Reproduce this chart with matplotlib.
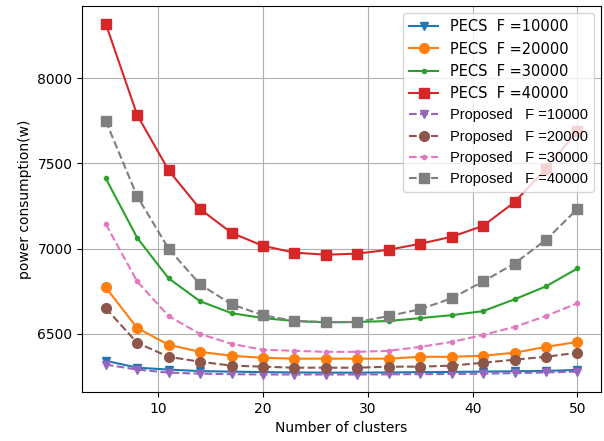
import matplotlib
matplotlib.use("Agg")
import matplotlib.pyplot as plt

clusters = [5, 8, 11, 14, 17, 20, 23, 26, 29, 32, 35, 38, 41, 44, 47, 50]

pecs_10000 = [6343, 6302, 6291, 6282, 6279, 6276, 6274, 6273, 6273, 6274, 6276, 6277, 6279, 6281, 6283, 6289]
pecs_20000 = [6773, 6535, 6436, 6395, 6372, 6360, 6355, 6355, 6355, 6355, 6366, 6366, 6372, 6390, 6424, 6453]
pecs_30000 = [7413, 7064, 6826, 6692, 6622, 6593, 6576, 6568, 6570, 6576, 6593, 6610, 6634, 6703, 6779, 6884]
pecs_40000 = [8320, 7785, 7460, 7233, 7093, 7017, 6977, 6965, 6971, 6994, 7029, 7070, 7134, 7273, 7470, 7690]

prop_10000 = [6320, 6291, 6273, 6267, 6264, 6262, 6262, 6262, 6262, 6263, 6264, 6265, 6267, 6270, 6274, 6279]
prop_20000 = [6651, 6448, 6366, 6337, 6314, 6308, 6302, 6302, 6302, 6308, 6308, 6314, 6331, 6349, 6366, 6390]
prop_30000 = [7145, 6808, 6605, 6500, 6442, 6407, 6401, 6395, 6395, 6401, 6424, 6453, 6494, 6541, 6605, 6680]
prop_40000 = [7750, 7308, 7000, 6791, 6674, 6610, 6576, 6570, 6570, 6605, 6645, 6709, 6808, 6913, 7052, 7233]

fig = plt.figure(figsize=(6.04, 4.41), dpi=100)
ax = fig.add_axes([0.136, 0.111, 0.859, 0.875])

ax.plot(clusters, pecs_10000, color='tab:blue', marker='v', label='PECS  F =10000')
ax.plot(clusters, pecs_20000, color='tab:orange', marker='o', markersize=7, label='PECS  F =20000')
ax.plot(clusters, pecs_30000, color='tab:green', marker='.', label='PECS  F =30000')
ax.plot(clusters, pecs_40000, color='tab:red', marker='s', markersize=6.5, label='PECS  F =40000')

ax.plot(clusters, prop_10000, color='tab:purple', marker='v', linestyle='--', label='Proposed   F =10000')
ax.plot(clusters, prop_20000, color='tab:brown', marker='o', markersize=7, linestyle='--', label='Proposed   F =20000')
ax.plot(clusters, prop_30000, color='tab:pink', marker='.', linestyle='--', label='Proposed   F =30000')
ax.plot(clusters, prop_40000, color='tab:gray', marker='s', markersize=6.5, linestyle='--', label='Proposed   F =40000')

ax.set_xlabel('Number of clusters')
ax.set_ylabel('power consumption(w)')
ax.set_xticks([10, 20, 30, 40, 50])
ax.set_yticks([6500, 7000, 7500, 8000])
ax.grid(True)

leg = ax.legend(loc='upper right', fontsize=10.5)
for t in leg.get_texts()[4:]:
    t.set_fontfamily('Liberation Sans')
    t.set_fontsize(10.5)

fig.savefig('out.png', dpi=100)
